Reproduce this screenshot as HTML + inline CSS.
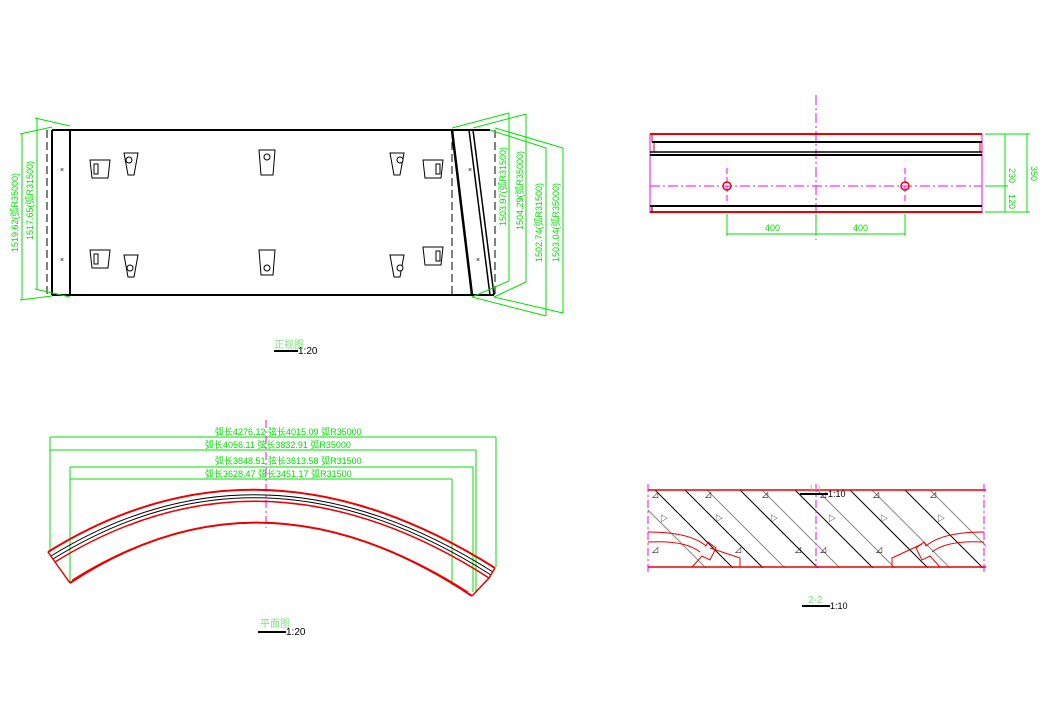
<!DOCTYPE html>
<html><head><meta charset="utf-8"><style>
html,body{margin:0;padding:0;background:#fff;}
svg{display:block;}
text{font-family:"Liberation Sans","Noto Sans CJK SC",sans-serif;}
</style></head><body>
<svg width="1043" height="712" viewBox="0 0 1043 712" xmlns="http://www.w3.org/2000/svg">
<rect width="1043" height="712" fill="#fff"/>

<!-- ===== Front view ===== -->
<g stroke="#000" fill="none">
  <line x1="52" y1="130" x2="490" y2="130" stroke-width="2"/>
  <line x1="52" y1="295" x2="494" y2="295" stroke-width="2"/>
  <line x1="52" y1="130" x2="52" y2="295" stroke-width="2"/>
  <line x1="70" y1="130" x2="70" y2="295" stroke-width="2"/>
  <line x1="47" y1="130" x2="47" y2="295" stroke-width="1" stroke-dasharray="8,4"/>
  <line x1="452" y1="130" x2="452" y2="295" stroke-width="1" stroke-dasharray="8,4"/>
  <line x1="495" y1="130" x2="495" y2="295" stroke-width="1" stroke-dasharray="8,4"/>
  <line x1="452" y1="130" x2="472" y2="295" stroke-width="2.5"/>
  <line x1="469" y1="130" x2="490" y2="295" stroke-width="1.5"/>
  <line x1="473" y1="130" x2="494" y2="295" stroke-width="1.5"/>
</g>
<g stroke="#000" fill="#fff" stroke-width="1">
  <!-- brackets -->
  <path d="M90 160 L110 160 L108 178 L92 178 Z"/><rect x="94" y="164" width="4" height="10"/>
  <path d="M90 250 L110 250 L108 268 L92 268 Z"/><rect x="94" y="254" width="4" height="10"/>
  <path d="M124 153 L138 153 L134 175 L128 175 Z"/><circle cx="129" cy="160" r="3"/>
  <path d="M124 255 L138 255 L134 277 L128 277 Z"/><circle cx="130" cy="268" r="3"/>
  <path d="M259 150 L275 150 L273 175 L261 175 Z"/><circle cx="267" cy="157" r="3"/>
  <path d="M259 250 L275 250 L273 275 L261 275 Z"/><circle cx="267" cy="268" r="3"/>
  <path d="M390 153 L404 153 L400 175 L394 175 Z"/><circle cx="400" cy="160" r="3"/>
  <path d="M390 255 L404 255 L400 277 L394 277 Z"/><circle cx="400" cy="268" r="3"/>
  <path d="M423 160 L443 160 L441 178 L425 178 Z"/><rect x="436" y="164" width="4" height="10"/>
  <path d="M423 247 L443 247 L441 265 L425 265 Z"/><rect x="436" y="251" width="4" height="10"/>
</g>
<g font-size="7" fill="#000"><text x="60" y="172">×</text><text x="60" y="262">×</text><text x="468" y="172">×</text><text x="476" y="262">×</text></g>
<!-- dims left -->
<g stroke="#00e000" stroke-width="1" fill="none">
  <line x1="22" y1="134" x2="22" y2="300"/><line x1="37" y1="118" x2="37" y2="289"/>
  <line x1="20" y1="134" x2="52" y2="127"/><line x1="20" y1="300" x2="52" y2="296"/>
  <line x1="35" y1="118" x2="70" y2="126"/><line x1="35" y1="289" x2="70" y2="297"/>
  <line x1="509" y1="113" x2="509" y2="281"/><line x1="526" y1="114" x2="526" y2="282"/>
  <line x1="546" y1="148" x2="546" y2="316"/><line x1="563" y1="148" x2="563" y2="313"/>
  <line x1="452" y1="128" x2="509" y2="113"/><line x1="473" y1="128" x2="526" y2="114"/>
  <line x1="490" y1="130" x2="546" y2="148"/><line x1="495" y1="128" x2="563" y2="148"/>
  <line x1="472" y1="297" x2="509" y2="281"/><line x1="494" y1="297" x2="526" y2="282"/>
  <line x1="472" y1="297" x2="546" y2="316"/><line x1="494" y1="297" x2="563" y2="313"/>
</g>
<g font-size="9" fill="#00e000">
  <text transform="translate(18,252) rotate(-90)">1519.62(弧R35000)</text>
  <text transform="translate(33,240) rotate(-90)">1517.65(弧R31500)</text>
  <text transform="translate(506,226) rotate(-90)">1503.97(弧R31500)</text>
  <text transform="translate(523,230) rotate(-90)">1504.29(弧R35000)</text>
  <text transform="translate(542,262) rotate(-90)">1502.74(弧R31500)</text>
  <text transform="translate(559,262) rotate(-90)">1503.04(弧R35000)</text>
</g>
<text x="274" y="348" font-size="10" fill="#80e080">正视图</text>
<line x1="274" y1="351" x2="298" y2="351" stroke="#000" stroke-width="2"/>
<text x="298" y="354" font-size="10" fill="#000">1:20</text>

<!-- ===== Top right view ===== -->
<g fill="none">
  <line x1="816" y1="95" x2="816" y2="240" stroke="#f0f" stroke-dasharray="10,3,2,3"/>
  <line x1="650" y1="186" x2="982" y2="186" stroke="#f0f" stroke-dasharray="10,3,2,3"/>
  <line x1="727" y1="168" x2="727" y2="204" stroke="#f0f" stroke-dasharray="6,3"/>
  <line x1="905" y1="168" x2="905" y2="204" stroke="#f0f" stroke-dasharray="6,3"/>
  <line x1="650" y1="134" x2="650" y2="213" stroke="#f0f"/>
  <line x1="982" y1="134" x2="982" y2="213" stroke="#f0f"/>
  <line x1="650" y1="134" x2="982" y2="134" stroke="#e00" stroke-width="2"/>
  <line x1="650" y1="212" x2="982" y2="212" stroke="#e00" stroke-width="2"/>
  <line x1="652" y1="134" x2="652" y2="142" stroke="#e00"/>
  <line x1="654" y1="142" x2="654" y2="152" stroke="#e00"/>
  <line x1="980" y1="142" x2="980" y2="152" stroke="#e00"/>
  <line x1="652" y1="142" x2="982" y2="142" stroke="#000" stroke-width="2"/>
  <line x1="650" y1="152" x2="982" y2="152" stroke="#000" stroke-width="1.5"/>
  <line x1="650" y1="155" x2="982" y2="155" stroke="#000" stroke-width="2"/>
  <line x1="650" y1="206" x2="982" y2="206" stroke="#000" stroke-width="2"/>
  <line x1="652" y1="206" x2="652" y2="212" stroke="#000"/>
  <circle cx="727" cy="186" r="4" stroke="#e00" stroke-width="1.5"/>
  <circle cx="905" cy="186" r="4" stroke="#e00" stroke-width="1.5"/>
  <g stroke="#00e000">
    <line x1="727" y1="214" x2="727" y2="236"/><line x1="905" y1="214" x2="905" y2="236"/>
    <line x1="727" y1="234" x2="905" y2="234"/><line x1="816" y1="214" x2="816" y2="236"/>
    <line x1="985" y1="134" x2="1030" y2="134"/><line x1="985" y1="212" x2="1030" y2="212"/>
    <line x1="985" y1="186" x2="1008" y2="186"/>
    <line x1="1005" y1="134" x2="1005" y2="212"/><line x1="1027" y1="134" x2="1027" y2="212"/>
  </g>
</g>
<g font-size="9" fill="#00e000">
  <text x="765" y="231">400</text><text x="853" y="231">400</text>
  <text transform="translate(1009,168) rotate(90)">230</text>
  <text transform="translate(1009,194) rotate(90)">120</text>
  <text transform="translate(1031,166) rotate(90)">350</text>
</g>

<!-- ===== Plan view ===== -->
<g fill="none">
  <g stroke="#00e000">
    <line x1="50" y1="437" x2="496" y2="437"/>
    <line x1="50" y1="450" x2="476" y2="450"/>
    <line x1="70" y1="467" x2="473" y2="467"/>
    <line x1="70" y1="479" x2="452" y2="479"/>
    <line x1="50" y1="437" x2="50" y2="552"/>
    <line x1="496" y1="437" x2="496" y2="567"/>
    <line x1="476" y1="450" x2="476" y2="592"/>
    <line x1="70" y1="467" x2="70" y2="583"/>
    <line x1="473" y1="467" x2="473" y2="592"/>
    <line x1="452" y1="479" x2="452" y2="585"/>
  </g>
  <line x1="266" y1="420" x2="266" y2="528" stroke="#f0f" stroke-dasharray="8,3,2,3"/>
  <path d="M48 552 Q260 420 495 568" stroke="#e00" stroke-width="2"/>
  <path d="M51 556 Q262 426 493 572" stroke="#000" stroke-width="1"/>
  <path d="M53 559 Q262 429 491 575" stroke="#000" stroke-width="1"/>
  <path d="M55 562 Q263 433 489 578" stroke="#e00" stroke-width="1.5"/>
  <path d="M70 583 Q262 456 472 596" stroke="#e00" stroke-width="2"/>
  <path d="M72 580 Q262 460 468 592" stroke="#e00" stroke-width="1"/>
  <path d="M48 552 L55 562 L70 583" stroke="#e00" stroke-width="1.5"/>
  <path d="M495 568 L489 578 L472 596" stroke="#e00" stroke-width="1.5"/>
</g>
<g font-size="9" fill="#00e000">
  <text x="215" y="435">弧长4276.12 弦长4015.09 弧R35000</text>
  <text x="205" y="448">弧长4056.11 弦长3832.91 弧R35000</text>
  <text x="215" y="464">弧长3848.51 弦长3613.58 弧R31500</text>
  <text x="205" y="477">弧长3628.47 弦长3451.17 弧R31500</text>
</g>
<text x="260" y="627" font-size="10" fill="#80e080">平面图</text>
<line x1="258" y1="632" x2="286" y2="632" stroke="#000" stroke-width="2"/>
<text x="286" y="635" font-size="10" fill="#000">1:20</text>

<!-- ===== Section 2-2 ===== -->
<defs><clipPath id="sc"><rect x="648" y="490" width="338" height="78"/></clipPath></defs>
<g clip-path="url(#sc)" stroke-width="1">
  <g stroke="#000">
    <line x1="655" y1="490" x2="733" y2="568"/>
    <line x1="685" y1="490" x2="763" y2="568"/>
    <line x1="740" y1="490" x2="818" y2="568"/>
    <line x1="795" y1="490" x2="873" y2="568"/>
    <line x1="850" y1="490" x2="928" y2="568"/>
    <line x1="905" y1="490" x2="983" y2="568"/>
  </g>
  <g stroke="#888">
    <line x1="628" y1="490" x2="706" y2="568"/>
    <line x1="707" y1="490" x2="785" y2="568"/>
    <line x1="762" y1="490" x2="840" y2="568"/>
    <line x1="817" y1="490" x2="895" y2="568"/>
    <line x1="872" y1="490" x2="950" y2="568"/>
    <line x1="930" y1="490" x2="1008" y2="568"/>
  </g>
</g>
<g fill="none">
  <line x1="648" y1="490" x2="986" y2="490" stroke="#e00" stroke-width="1.5"/>
  <line x1="648" y1="567" x2="986" y2="567" stroke="#e00" stroke-width="1.5"/>
  <line x1="648" y1="484" x2="648" y2="574" stroke="#f0f" stroke-dasharray="8,3,2,3"/>
  <line x1="984" y1="484" x2="984" y2="574" stroke="#f0f" stroke-dasharray="8,3,2,3"/>
  <line x1="816" y1="484" x2="816" y2="568" stroke="#f0f" stroke-dasharray="8,3,2,3"/>
  <path d="M648 532 Q690 532 706 546 L708 542 L716 548 L710 560 L702 556 L692 567" stroke="#e00"/>
  <path d="M648 542 Q685 540 700 552" stroke="#e00"/>
  <path d="M740 567 L740 558 L710 548" stroke="#e00"/>
  <path d="M984 532 Q942 532 926 546 L924 542 L916 548 L922 560 L930 556 L940 567" stroke="#e00"/>
  <path d="M984 542 Q947 540 932 552" stroke="#e00"/>
  <path d="M892 567 L892 558 L922 544" stroke="#e00"/>
</g>
<g font-size="8" fill="#000">
  <text x="652" y="497">◿</text><text x="705" y="497">◿</text><text x="762" y="497">◿</text><text x="820" y="497">◿</text><text x="873" y="497">◿</text><text x="930" y="497">◿</text>
  <text x="660" y="521">▷</text><text x="715" y="521">▷</text><text x="770" y="521">▷</text><text x="828" y="521">▷</text><text x="880" y="521">▷</text><text x="937" y="521">▷</text>
  <text x="652" y="552">◿</text><text x="735" y="552">◿</text><text x="795" y="552">◿</text><text x="820" y="552">◿</text><text x="876" y="552">◿</text>
</g>
<text x="809" y="492" font-size="9" fill="#80e080">1-1</text>
<line x1="800" y1="494" x2="828" y2="494" stroke="#000" stroke-width="2"/>
<text x="828" y="497" font-size="9" fill="#000">1:10</text>
<text x="808" y="603" font-size="10" fill="#80e080">2-2</text>
<line x1="802" y1="606" x2="830" y2="606" stroke="#000" stroke-width="2"/>
<text x="830" y="609" font-size="9" fill="#000">1:10</text>
</svg>
</body></html>
